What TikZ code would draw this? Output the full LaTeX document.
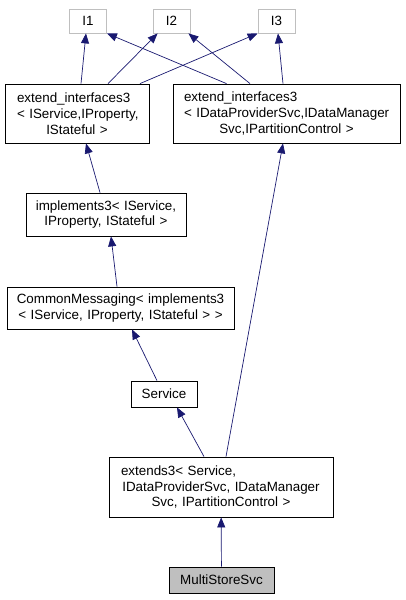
\documentclass[tikz,border=0pt]{standalone}
\usepackage{fontspec}
\setmainfont{Liberation Sans}
\usetikzlibrary{arrows.meta}
\definecolor{edgeblue}{HTML}{191970}
\definecolor{ifgray}{HTML}{BFBFBF}
\newcommand{\lline}[1]{\makebox[\linewidth][l]{#1}}

\begin{document}
\begin{tikzpicture}[x=1pt,y=-1pt,
  cls/.style={draw=black, line width=0.8pt, inner sep=0pt, align=center,
    font=\fontsize{13.4}{15.8}\selectfont},
  iface/.style={cls, draw=ifgray, minimum width=37pt, minimum height=24pt},
  inherit/.style={draw=edgeblue, line width=0.7pt,
    -{Triangle[length=10pt,width=8pt,fill=edgeblue]}}]

\useasboundingbox (0,0) rectangle (405,600);

% Define the interface boxes
\node[iface] (I1) at (88,21) {I1};
\node[iface] (I2) at (171.5,21) {I2};
\node[iface] (I3) at (276.5,21) {I3};

% Define the class boxes
\node[cls, inner xsep=12pt, text width=120pt, minimum height=59pt] (extL) at (77,113.5)
  {\lline{extend\_interfaces3}\\ \lline{< IService,IProperty,}\\ IStateful >};
\node[cls, inner xsep=11pt, text width=205pt, minimum height=59pt] (extR) at (286.5,113.5)
  {\lline{extend\_interfaces3}\\ \lline{< IDataProviderSvc,IDataManager}\\ Svc,IPartitionControl >};
\node[cls, inner xsep=4pt, text width=152pt, minimum height=43pt] (impl) at (106,214.5)
  {implements3< IService,\\ IProperty, IStateful >};
\node[cls, inner xsep=3pt, text width=221pt, minimum height=42pt] (cmsg) at (120.5,308)
  {CommonMessaging< implements3\\ < IService, IProperty, IStateful > >};
\node[cls, minimum width=66pt, minimum height=26pt] (svc) at (164,394) {Service};
\node[cls, inner xsep=12pt, text width=200pt, minimum height=60pt] (ext3) at (221,487)
  {\lline{extends3< Service,}\\ IDataProviderSvc, IDataManager\\ Svc, IPartitionControl >};
\node[cls, fill=ifgray, minimum width=105pt, minimum height=26pt] (mss) at (221.5,580) {MultiStoreSvc};

% Draw the inheritance arrows
\draw[inherit] ([xshift=4pt]extL.north) -- ([xshift=-2pt]I1.south);
\draw[inherit] ([xshift=31pt]extL.north) -- ([xshift=5pt]I2.south west);
\draw[inherit] ([xshift=63pt]extL.north) -- (I3.south west);
\draw[inherit] ([xshift=-60pt]extR.north) -- (I1.south east);
\draw[inherit] ([xshift=-36.5pt]extR.north) -- ([xshift=-2pt]I2.south east);
\draw[inherit] ([xshift=-3.5pt]extR.north) -- ([xshift=1.5pt]I3.south);
\draw[inherit] ([xshift=-6pt]impl.north) -- ([xshift=9pt]extL.south);
\draw[inherit] ([xshift=-3.5pt]cmsg.north) -- ([xshift=5pt]impl.south);
\draw[inherit] ([xshift=-7pt]svc.north) -- ([xshift=11.5pt]cmsg.south);
\draw[inherit] ([xshift=-17pt]ext3.north) -- ([xshift=13pt]svc.south);
\draw[inherit] ([xshift=5pt]ext3.north) -- ([xshift=-3.5pt]extR.south);
\draw[inherit] (mss) -- (ext3);

\end{tikzpicture}
\end{document}
